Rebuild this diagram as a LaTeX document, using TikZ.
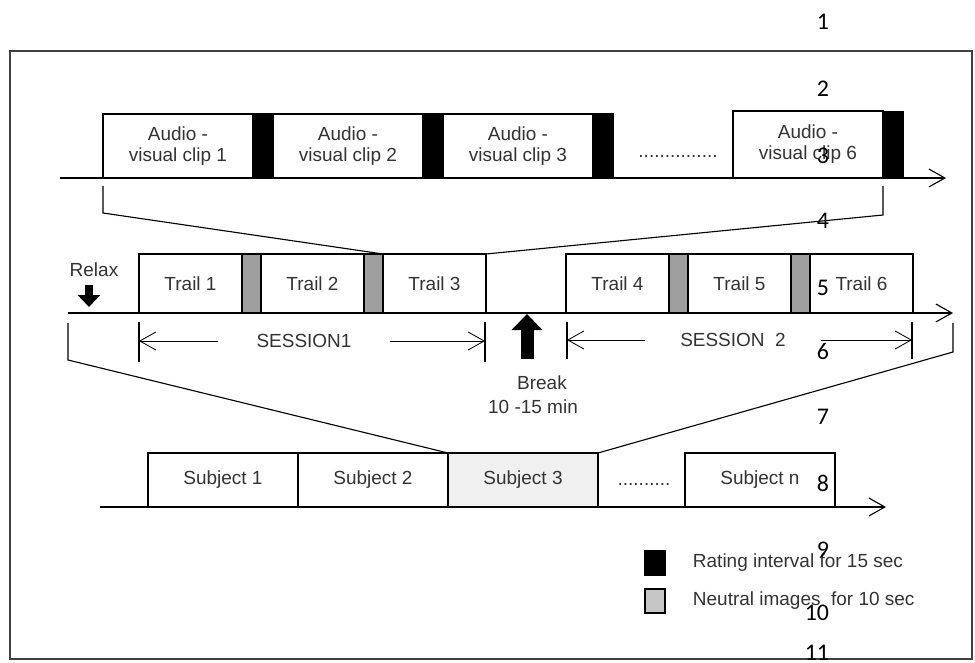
\documentclass[tikz,border=0pt]{standalone}
\usepackage{fontspec}
\setmainfont{Liberation Sans}
\newfontfamily\numfont{Carlito}
\usetikzlibrary{positioning,arrows.meta}

\begin{document}
\begin{tikzpicture}[x=0.25mm,y=-0.25mm,
        every node/.style={font=\fontsize{13.5}{15}\selectfont, text=black!80},
        seg/.style={draw, line width=0.8pt, inner sep=0pt, outer sep=0pt},
        clipbox/.style={seg, fill=white, minimum width=37.5mm, minimum height=16mm, align=center},
        ratebar/.style={seg, fill=black, minimum width=5mm, minimum height=16mm},
        trailbox/.style={seg, fill=white, minimum width=25.75mm, minimum height=14.75mm},
        neutralbar/.style={seg, fill=gray!75, minimum width=4.75mm, minimum height=14.75mm},
        subjbox/.style={seg, fill=white, minimum width=37.5mm, minimum height=13.5mm},
        linenum/.style={font=\numfont\fontsize{17}{17}\selectfont, text=black, anchor=east},
        axis/.style={line width=0.8pt, -{Straight Barb[length=4mm,width=4.5mm]}},
        sessarrow/.style={line width=0.6pt, -{Straight Barb[length=4mm,width=4.5mm]}},
        proj/.style={line width=0.8pt},
        blockarrow/.style={draw=black, -{Triangle[length=3mm,width=5.5mm]}}]

        \useasboundingbox (0,0) rectangle (975,663);
        \draw[line width=1pt, black!75] (10,51) rectangle (972,659);

        % top row: clips
        \node[clipbox, anchor=south west] (clip1) at (103,178) {Audio -\\visual clip 1};
        \node[ratebar, right=0pt of clip1] (rate1) {};
        \node[clipbox, right=0pt of rate1] (clip2) {Audio -\\visual clip 2};
        \node[ratebar, right=0pt of clip2] (rate2) {};
        \node[clipbox, right=0pt of rate2] (clip3) {Audio -\\visual clip 3};
        \node[ratebar, right=0pt of clip3] (rate3) {};
        \node (dots1) at (678,156) {...............};
        \node[clipbox, minimum height=16.75mm, anchor=south west] (clip6) at (733,178) {Audio -\\visual clip 6};
        \node[ratebar, minimum height=16.5mm, anchor=south west] (rate6) at (883,178) {};

        \coordinate (topstart) at (60,178);
        \coordinate (topend) at (946,178);
        \draw[axis] (topstart) -- (topend);

        % middle row: trails
        \node[trailbox, anchor=south west] (trail1) at (139,313) {Trail 1};
        \node[neutralbar, right=0pt of trail1] (neut1) {};
        \node[trailbox, right=0pt of neut1] (trail2) {Trail 2};
        \node[neutralbar, right=0pt of trail2] (neut2) {};
        \node[trailbox, right=0pt of neut2] (trail3) {Trail 3};
        \node[trailbox, anchor=south west] (trail4) at (566,313) {Trail 4};
        \node[neutralbar, right=0pt of trail4] (neut4) {};
        \node[trailbox, right=0pt of neut4] (trail5) {Trail 5};
        \node[neutralbar, right=0pt of trail5] (neut5) {};
        \node[trailbox, right=0pt of neut5] (trail6) {Trail 6};

        \coordinate (midstart) at (68,313);
        \coordinate (midend) at (953,313);
        \draw[axis] (midstart) -- (midend);

        % top row zooms into trail 3
        \draw[proj] ([yshift=-2mm]clip1.south west) -- ++(0,27) -- (trail3.north west);
        \draw[proj] ([yshift=-2mm]clip6.south east) -- ++(0,29) -- (trail3.north east);

        % relax and break
        \node (relax) at (94,270) {Relax};
        \coordinate (relaxtip) at (89,307);
        \draw[blockarrow, line width=2mm] (relaxtip |- 0,285) -- (relaxtip);

        \coordinate (brkfoot) at (527,359);
        \coordinate (brktip) at (527,314);
        \draw[blockarrow, line width=3.25mm, -{Triangle[length=4mm,width=7.5mm]}] (brkfoot) -- (brktip);
        \node (brk) at (542,383) {Break};
        \node (brktime) at (533,407) {10 -15 min};

        % sessions
        \coordinate (s1L) at (139,322);
        \coordinate (s1R) at (485,322);
        \coordinate (s2L) at (567,322);
        \coordinate (s2R) at (912,322);
        \draw[proj] (s1L) -- ++(0,40);
        \draw[proj] (s1R) -- ++(0,40);
        \draw[proj] (s2L) -- ++(0,37);
        \draw[proj] (s2R) -- ++(0,37);

        \node (sess1) at (304,341) {SESSION1};
        \node (sess2) at (733,340) {SESSION\ \ 2};
        \draw[sessarrow] ([xshift=-8.5mm]sess1.west) -- (s1L |- sess1.west);
        \draw[sessarrow] ([xshift=8.5mm]sess1.east) -- (s1R |- sess1.east);
        \draw[sessarrow] ([xshift=-7.5mm]sess2.west) -- (s2L |- sess2.west);
        \draw[sessarrow] ([xshift=7.5mm]sess2.east) -- (s2R |- sess2.east);

        % bottom row: subjects
        \node[subjbox, anchor=south west] (subj1) at (148,507) {Subject 1};
        \node[subjbox, right=0pt of subj1] (subj2) {Subject 2};
        \node[subjbox, right=0pt of subj2, fill=gray!12] (subj3) {Subject 3};
        \node (dots2) at (644,484) {..........};
        \node[subjbox, anchor=south west] (subjn) at (685,507) {Subject n};

        \coordinate (botstart) at (100,507);
        \coordinate (botend) at (886,507);
        \draw[axis] (botstart) -- (botend);

        % sessions zoom into subject 3
        \draw[proj] ([yshift=-2.5mm]midstart) -- ++(0,37) -- (subj3.north west);
        \draw[proj] ([yshift=-2.5mm]midend) -- ++(0,29) -- (subj3.north east);

        % legend
        \node[seg, fill=black, minimum width=5mm, minimum height=6mm, anchor=north west] (keyrate) at (645,551) {};
        \node[seg, fill=gray!45, minimum width=5mm, minimum height=6mm, anchor=north west] (keyneut) at (645,589) {};
        \node[anchor=west] (keyratetext) at (688,563) {Rating interval for 15 sec};
        \node[anchor=west] (keyneuttext) at (688,601) {Neutral images\ \ for 10 sec};

        % line numbers
        \node[linenum] (ln1) at (834,22) {1};
        \node[linenum] (ln2) at (834,89) {2};
        \node[linenum] (ln3) at (834,156) {3};
        \node[linenum] (ln4) at (834,221) {4};
        \node[linenum] (ln5) at (834,288) {5};
        \node[linenum] (ln6) at (834,352) {6};
        \node[linenum] (ln7) at (834,417) {7};
        \node[linenum] (ln8) at (834,483) {8};
        \node[linenum] (ln9) at (834,550) {9};
        \node[linenum] (ln10) at (834,613) {10};
        \node[linenum] (ln11) at (834,653) {11};

    \end{tikzpicture}
\end{document}
